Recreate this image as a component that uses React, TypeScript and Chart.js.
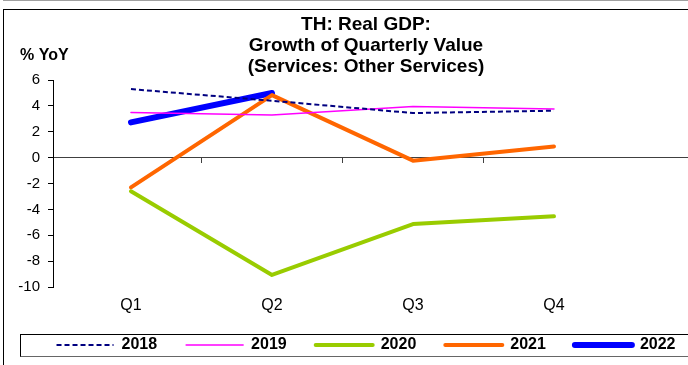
import React, { useEffect, useRef } from "react";
import { Chart, registerables } from "chart.js";

Chart.register(...registerables);

const QUARTERS = ["Q1", "Q2", "Q3", "Q4"];
const TITLE_LINES = ["TH: Real GDP:", "Growth of Quarterly Value", "(Services: Other Services)"];
const Y_UNIT = "% YoY";
const Y_MIN = -10;
const Y_MAX = 6;
const Y_STEP = 2;

const S2018 = [5.3, 4.4, 3.45, 3.63];
const S2019 = [3.5, 3.3, 3.95, 3.76];
const S2020 = [-2.6, -9.07, -5.13, -4.53];
const S2021 = [-2.3, 4.84, -0.23, 0.87];
const S2022 = [2.73, 5.0, null, null];

const FONT = '"Liberation Sans", Arial, Helvetica, sans-serif';

export default function App() {
  const ref = useRef<HTMLCanvasElement | null>(null);

  useEffect(() => {
    const canvas = ref.current;
    if (!canvas) return;
    Chart.defaults.font.family = FONT;
    Chart.defaults.color = "#000";

    const pts = (arr: (number | null)[]) => arr.map((v, i) => ({ x: i + 1, y: v }));
    const xMin = 0.447;
    const xMax = 5.234;

    const unitPlugin = {
      id: "unitLabel",
      afterDraw(chart: any) {
        const { ctx, chartArea } = chart;
        ctx.save();
        ctx.font = `bold 16px ${FONT}`;
        ctx.fillStyle = "#000";
        ctx.textAlign = "left";
        ctx.textBaseline = "middle";
        ctx.fillText(Y_UNIT, chartArea.left - 33, chartArea.top - 24);
        ctx.restore();
      },
    };

    const common = {
      pointRadius: 0,
      pointHoverRadius: 0,
      fill: false,
      tension: 0,
      borderCapStyle: "round" as const,
      borderJoinStyle: "round" as const,
      spanGaps: false,
    };

    const defaultLabels = (Chart as any).defaults.plugins.legend.labels.generateLabels;

    const chart = new Chart(canvas, {
      type: "line",
      data: {
        datasets: [
          { ...common, label: "2018", data: pts(S2018), borderColor: "#000080", backgroundColor: "#000080", borderWidth: 2, borderDash: [5, 3], borderCapStyle: "butt" },
          { ...common, label: "2019", data: pts(S2019), borderColor: "#FF00FF", backgroundColor: "#FF00FF", borderWidth: 1.5 },
          { ...common, label: "2020", data: pts(S2020), borderColor: "#99CC00", backgroundColor: "#99CC00", borderWidth: 4 },
          { ...common, label: "2021", data: pts(S2021), borderColor: "#FF6600", backgroundColor: "#FF6600", borderWidth: 4 },
          { ...common, label: "2022", data: pts(S2022), borderColor: "#0000FF", backgroundColor: "#0000FF", borderWidth: 6 },
        ],
      },
      options: {
        responsive: false,
        maintainAspectRatio: false,
        animation: false,
        devicePixelRatio: 1,
        layout: { padding: 0 },
        events: [],
        plugins: {
          tooltip: { enabled: false },
          title: {
            display: true,
            text: TITLE_LINES,
            color: "#000",
            font: { size: 19, weight: "bold", lineHeight: 1.08 },
            padding: { top: 5, bottom: 3.5 },
          },
          legend: {
            display: true,
            position: "bottom",
            labels: {
              usePointStyle: true,
              pointStyle: "line",
              pointStyleWidth: 57,
              padding: 29,
              color: "#000",
              font: { size: 16, weight: "bold" },
              generateLabels: (ch: any) =>
                defaultLabels(ch).map((item: any) => {
                  const ds = ch.data.datasets[item.datasetIndex];
                  return {
                    ...item,
                    pointStyle: "line",
                    strokeStyle: ds.borderColor,
                    fillStyle: ds.borderColor,
                    lineWidth: ds.borderWidth,
                    lineDash: ds.borderDash || [],
                    lineCap: ds.borderDash ? "butt" : "round",
                  };
                }),
            },
          },
        },
        scales: {
          x: {
            type: "linear",
            position: { y: Y_MIN } as any,
            min: xMin,
            max: xMax,
            afterBuildTicks: (s: any) => {
              s.ticks = QUARTERS.map((_, i) => ({ value: i + 1 }));
            },
            ticks: {
              padding: 9,
              color: "#000",
              font: { size: 16 },
              maxRotation: 0,
              autoSkip: false,
              callback: (v: any) => QUARTERS[Number(v) - 1] ?? "",
            },
            grid: { display: false, drawTicks: false },
            border: { display: false },
          },
          x2: {
            type: "linear",
            axis: "x",
            position: { y: 0 } as any,
            min: xMin,
            max: xMax,
            afterBuildTicks: (s: any) => {
              s.ticks = QUARTERS.slice(0, -1).map((_, i) => ({ value: i + 1.5 }));
            },
            ticks: { display: false },
            grid: { drawOnChartArea: false, drawTicks: true, tickLength: 5, tickColor: "#404040", lineWidth: 1 },
            border: { display: true, color: "#404040", width: 1 },
          },
          xs: {
            type: "linear",
            axis: "x",
            position: "bottom",
            min: xMin,
            max: xMax,
            afterFit: (s: any) => {
              s.height = 21;
            },
            ticks: { display: false },
            grid: { display: false, drawTicks: false },
            border: { display: false },
          },
          y: {
            type: "linear",
            min: Y_MIN,
            max: Y_MAX,
            afterFit: (s: any) => {
              s.width = 49;
            },
            ticks: { stepSize: Y_STEP, padding: 8, color: "#000", font: { size: 15 } },
            grid: { drawOnChartArea: false, drawTicks: true, tickLength: 5, tickColor: "#000", lineWidth: 1 },
            border: { display: true, color: "#000", width: 1 },
          },
        },
      } as any,
      plugins: [unitPlugin],
    });

    return () => chart.destroy();
  }, []);

  return (
    <div style={{ position: "absolute", left: 0, top: 0, width: 688, height: 365, overflow: "hidden", background: "#fff" }}>
      <div style={{ position: "absolute", left: 3, top: -30, width: 800, height: 29, borderLeft: "1px solid #a0a0a0", borderBottom: "2px solid #a0a0a0" }} />
      <div style={{ position: "absolute", left: 3, top: 9, width: 800, height: 400, border: "1px solid #000", boxSizing: "border-box" }} />
      <div style={{ position: "absolute", left: 20, top: 334, width: 692, height: 23, border: "1px solid #000", borderBottom: "1px solid #666", boxSizing: "border-box" }} />
      <canvas ref={ref} width={724} height={353} style={{ position: "absolute", left: 4, top: 10, width: 724, height: 353 }} />
    </div>
  );
}
